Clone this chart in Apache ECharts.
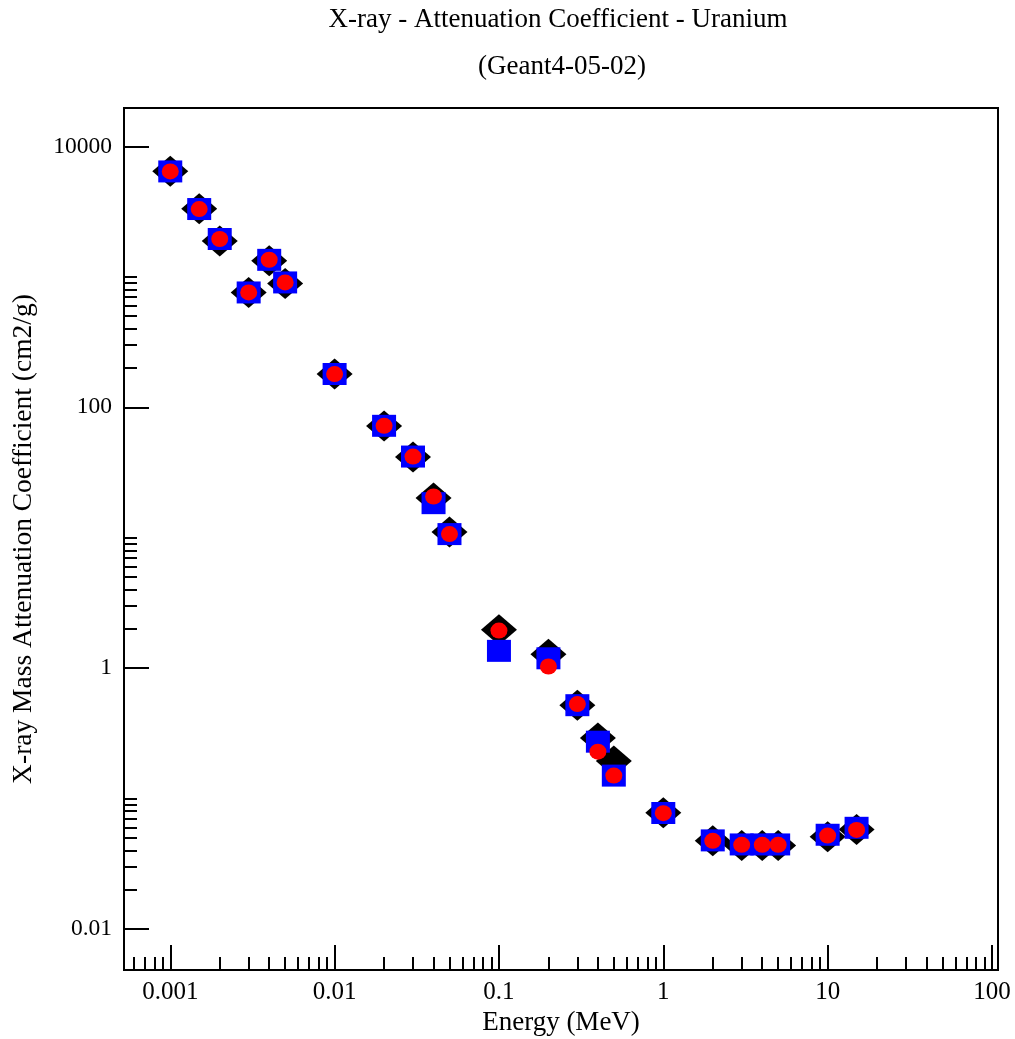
<!DOCTYPE html>
<html>
<head>
<meta charset="utf-8">
<script src="https://cdn.jsdelivr.net/npm/echarts@6/dist/echarts.min.js"></script>
<style>
  html, body { margin: 0; padding: 0; background: #fff; }
  #chart { width: 1015px; height: 1039px; }
</style>
</head>
<body>
<div id="chart"></div>
<script>
// ---- Data ----
const energy = [0.001, 0.0015, 0.002, 0.003, 0.004, 0.005, 0.01, 0.02, 0.03, 0.04, 0.05,
                0.1, 0.2, 0.3, 0.4, 0.5, 1, 2, 3, 4, 5, 10, 15];
// black diamonds
const seriesDiamond = [6450, 3330, 1880, 760, 1330, 890, 180, 72, 41.5, 20.2, 11.06,
                       1.97, 1.276, 0.52, 0.291, 0.194, 0.078, 0.0474, 0.0437, 0.0437, 0.0437, 0.0510, 0.058];
// blue squares
const seriesSquare = [6430, 3310, 1950, 759, 1350, 906, 180, 72.1, 41.9, 18.4, 10.66,
                      1.357, 1.19, 0.52, 0.273, 0.150, 0.0775, 0.0478, 0.0445, 0.0445, 0.0445, 0.0528, 0.0597];
// red circles
const seriesCircle = [6430, 3310, 1950, 759, 1352, 906, 179.7, 72.1, 41.9, 20.7, 10.66,
                      1.94, 1.03, 0.530, 0.229, 0.150, 0.0773, 0.0474, 0.0442, 0.0442, 0.0442, 0.0520, 0.0575];

// Axis ticks / labels
const xMajorTicks = [0.001, 0.01, 0.1, 1, 10, 100];
const yMajorTicks = [0.01, 1, 100, 10000];
const xRange = [0.000523, 108.8];
const yRange = [0.00485, 19700];

// minor ticks: 2..9 x every decade on x; 2..10 x every labelled (2-decade) major on y
const xMinorTicks = [];
[0.0001, 0.001, 0.01, 0.1, 1, 10].forEach(d => {
  for (let m = 2; m <= 9; m++) {
    const v = +(m * d).toPrecision(6);
    if (v > xRange[0] && v < xRange[1]) xMinorTicks.push(v);
  }
});
const yMinorTicks = [];
[0.0001, 0.01, 1, 100, 10000].forEach(d => {
  for (let m = 2; m <= 10; m++) {
    const v = +(m * d).toPrecision(6);
    if (v > yRange[0] && v < yRange[1]) yMinorTicks.push(v);
  }
});

const FONT = 'Liberation Serif';
const fmt = v => String(+Number(v).toPrecision(6));

const chart = echarts.init(document.getElementById('chart'), null, { renderer: 'canvas' });

const baseAxis = {
  type: 'log',
  logBase: 10,
  splitLine: { show: false },
  minorTick: { show: false },
  minorSplitLine: { show: false }
};

const option = {
  backgroundColor: '#ffffff',
  animation: false,
  title: [
    {
      text: 'X-ray - Attenuation Coefficient - Uranium',
      left: 558, top: 6, textAlign: 'center', padding: 0,
      textStyle: { fontFamily: FONT, fontSize: 27, fontWeight: 'normal', color: '#000' }
    },
    {
      text: '(Geant4-05-02)',
      left: 562, top: 53, textAlign: 'center', padding: 0,
      textStyle: { fontFamily: FONT, fontSize: 27, fontWeight: 'normal', color: '#000' }
    }
  ],
  grid: {
    left: 124, right: 17, top: 108, bottom: 69,
    containLabel: false, outerBoundsMode: 'none',
    show: true, borderColor: '#000', borderWidth: 2, backgroundColor: 'transparent'
  },
  xAxis: [
    Object.assign({}, baseAxis, {
      min: xRange[0], max: xRange[1], position: 'bottom',
      name: 'Energy (MeV)', nameLocation: 'middle', nameGap: 37,
      nameTextStyle: { fontFamily: FONT, fontSize: 27, color: '#000' },
      axisLine: { show: true, lineStyle: { color: '#000', width: 2 } },
      axisTick: { show: true, inside: true, length: 25, customValues: xMajorTicks,
                  lineStyle: { color: '#000', width: 2 } },
      axisLabel: { show: true, customValues: xMajorTicks, formatter: fmt, margin: 10,
                   fontFamily: FONT, fontSize: 25, color: '#000' }
    }),
    Object.assign({}, baseAxis, {
      min: xRange[0], max: xRange[1], position: 'bottom',
      axisLine: { show: false },
      axisTick: { show: true, inside: true, length: 13, customValues: xMinorTicks,
                  lineStyle: { color: '#000', width: 2 } },
      axisLabel: { show: false }
    })
  ],
  yAxis: [
    Object.assign({}, baseAxis, {
      min: yRange[0], max: yRange[1], position: 'left',
      name: 'X-ray Mass Attenuation Coefficient (cm2/g)', nameLocation: 'middle',
      nameGap: 86, nameRotate: 90,
      nameTextStyle: { fontFamily: FONT, fontSize: 27.5, color: '#000' },
      axisLine: { show: true, lineStyle: { color: '#000', width: 2 } },
      axisTick: { show: true, inside: true, length: 25, customValues: yMajorTicks,
                  lineStyle: { color: '#000', width: 2 } },
      axisLabel: { show: true, customValues: yMajorTicks, formatter: fmt, margin: 12,
                   fontFamily: FONT, fontSize: 23.5, color: '#000' }
    }),
    Object.assign({}, baseAxis, {
      min: yRange[0], max: yRange[1], position: 'left',
      axisLine: { show: false },
      axisTick: { show: true, inside: true, length: 13, customValues: yMinorTicks,
                  lineStyle: { color: '#000', width: 2 } },
      axisLabel: { show: false }
    })
  ],
  series: [
    {
      name: 'Diamond series', type: 'scatter', xAxisIndex: 0, yAxisIndex: 0,
      symbol: 'diamond', symbolSize: [36, 31],
      itemStyle: { color: '#000000', opacity: 1 },
      data: energy.map((e, i) => [e, seriesDiamond[i]]), z: 2
    },
    {
      name: 'Square series', type: 'scatter', xAxisIndex: 0, yAxisIndex: 0,
      symbol: 'rect', symbolSize: [24, 22],
      itemStyle: { color: '#0000ff', opacity: 1 },
      data: energy.map((e, i) => [e, seriesSquare[i]]), z: 3
    },
    {
      name: 'Circle series', type: 'scatter', xAxisIndex: 0, yAxisIndex: 0,
      symbol: 'circle', symbolSize: [17, 16],
      itemStyle: { color: '#ff0000', opacity: 1 },
      data: energy.map((e, i) => [e, seriesCircle[i]]), z: 4
    }
  ]
};
chart.setOption(option);
</script>
</body>
</html>
